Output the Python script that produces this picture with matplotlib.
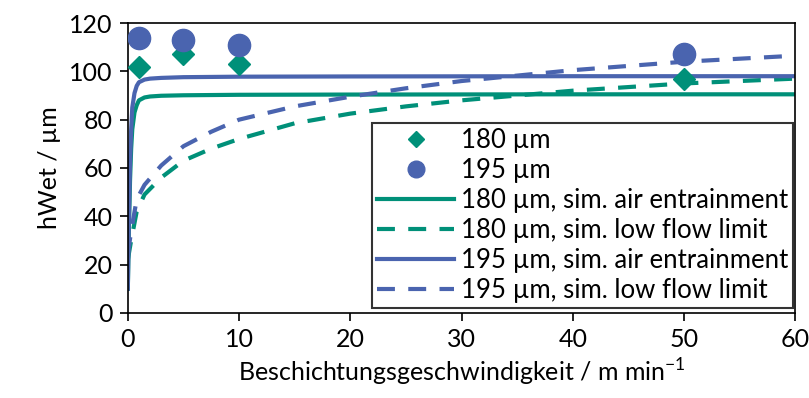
"""
Wet film thickness vs. coating speed: measurements and simulated limits.
"""

import matplotlib
matplotlib.use("Agg")
import matplotlib.pyplot as plt


# Measured points
speed_meas = [1, 5, 10, 50]
h_180_meas = [102, 107, 103, 97]
h_195_meas = [114, 113, 111, 107]

# Simulated air entrainment limit
speed_air = [0.0, 0.1, 0.2, 0.3, 0.4, 0.6, 0.8, 1.0, 1.5, 2.0, 3.0, 5.0, 10, 20, 40, 60]
h_180_air = [10, 35, 55, 68, 76, 83, 86, 88, 89.2, 89.6, 89.9, 90.1, 90.3, 90.4, 90.5, 90.5]
h_195_air = [10, 40, 62, 76, 85, 91, 94, 95.5, 96.6, 97.0, 97.3, 97.6, 97.8, 97.9, 98.0, 98.0]

# Simulated low flow limit
speed_low = [0.0, 0.3, 0.8, 1.5, 3, 5, 7.5, 10, 15, 20, 25, 30, 40, 50, 60]
h_180_low = [22, 30, 42, 49, 56, 63, 68, 72, 78.5, 82.5, 85.5, 88, 92, 95, 97]
h_195_low = [24, 34, 47, 53, 61, 69, 75, 80, 85.5, 89.5, 93, 96, 100.5, 104, 106.5]

GREEN = "#009079"
BLUE = "#4A64AF"

plt.rcParams["font.family"] = ["Lato", "DejaVu Sans"]
plt.rcParams["mathtext.fontset"] = "custom"
plt.rcParams["mathtext.rm"] = "Lato"

fig = plt.figure(figsize=(8.09, 3.98), dpi=100)
ax = fig.add_axes([0.158, 0.214, 0.825, 0.728])

ax.plot(speed_meas, h_180_meas, linestyle="none", marker="D", markersize=11,
        color=GREEN, label="180 µm", zorder=5)
ax.plot(speed_meas, h_195_meas, linestyle="none", marker="o", markersize=16,
        color=BLUE, label="195 µm", zorder=5)
ax.plot(speed_air, h_180_air, color=GREEN, lw=3, label="180 µm, sim. air entrainment")
ax.plot(speed_low, h_180_low, color=GREEN, lw=3, dashes=(4.3, 3.2),
        label="180 µm, sim. low flow limit")
ax.plot(speed_air, h_195_air, color=BLUE, lw=3, label="195 µm, sim. air entrainment")
ax.plot(speed_low, h_195_low, color=BLUE, lw=3, dashes=(4.3, 3.2),
        label="195 µm, sim. low flow limit")

ax.set_xlim(0, 60)
ax.set_ylim(0, 120)
ax.set_xticks(range(0, 61, 10))
ax.set_yticks(range(0, 121, 20))
ax.tick_params(labelsize=18, direction="out", length=6, width=1.2, pad=5)
for s in ax.spines.values():
    s.set_linewidth(1.2)

ax.set_xlabel("Beschichtungsgeschwindigkeit / m min$^{-1}$", fontsize=18, labelpad=4)
ax.set_ylabel("hWet / µm", fontsize=18, labelpad=6)

leg = ax.legend(loc="lower right", bbox_to_anchor=(0.997, 0.015), fontsize=18.5,
                frameon=True, fancybox=False, edgecolor="black", markerscale=0.75,
                handlelength=3.0, labelspacing=0.2, borderpad=0.2,
                handletextpad=0.25, borderaxespad=0.0)
leg.get_frame().set_linewidth(1.5)

fig.savefig("out.png", dpi=100)
